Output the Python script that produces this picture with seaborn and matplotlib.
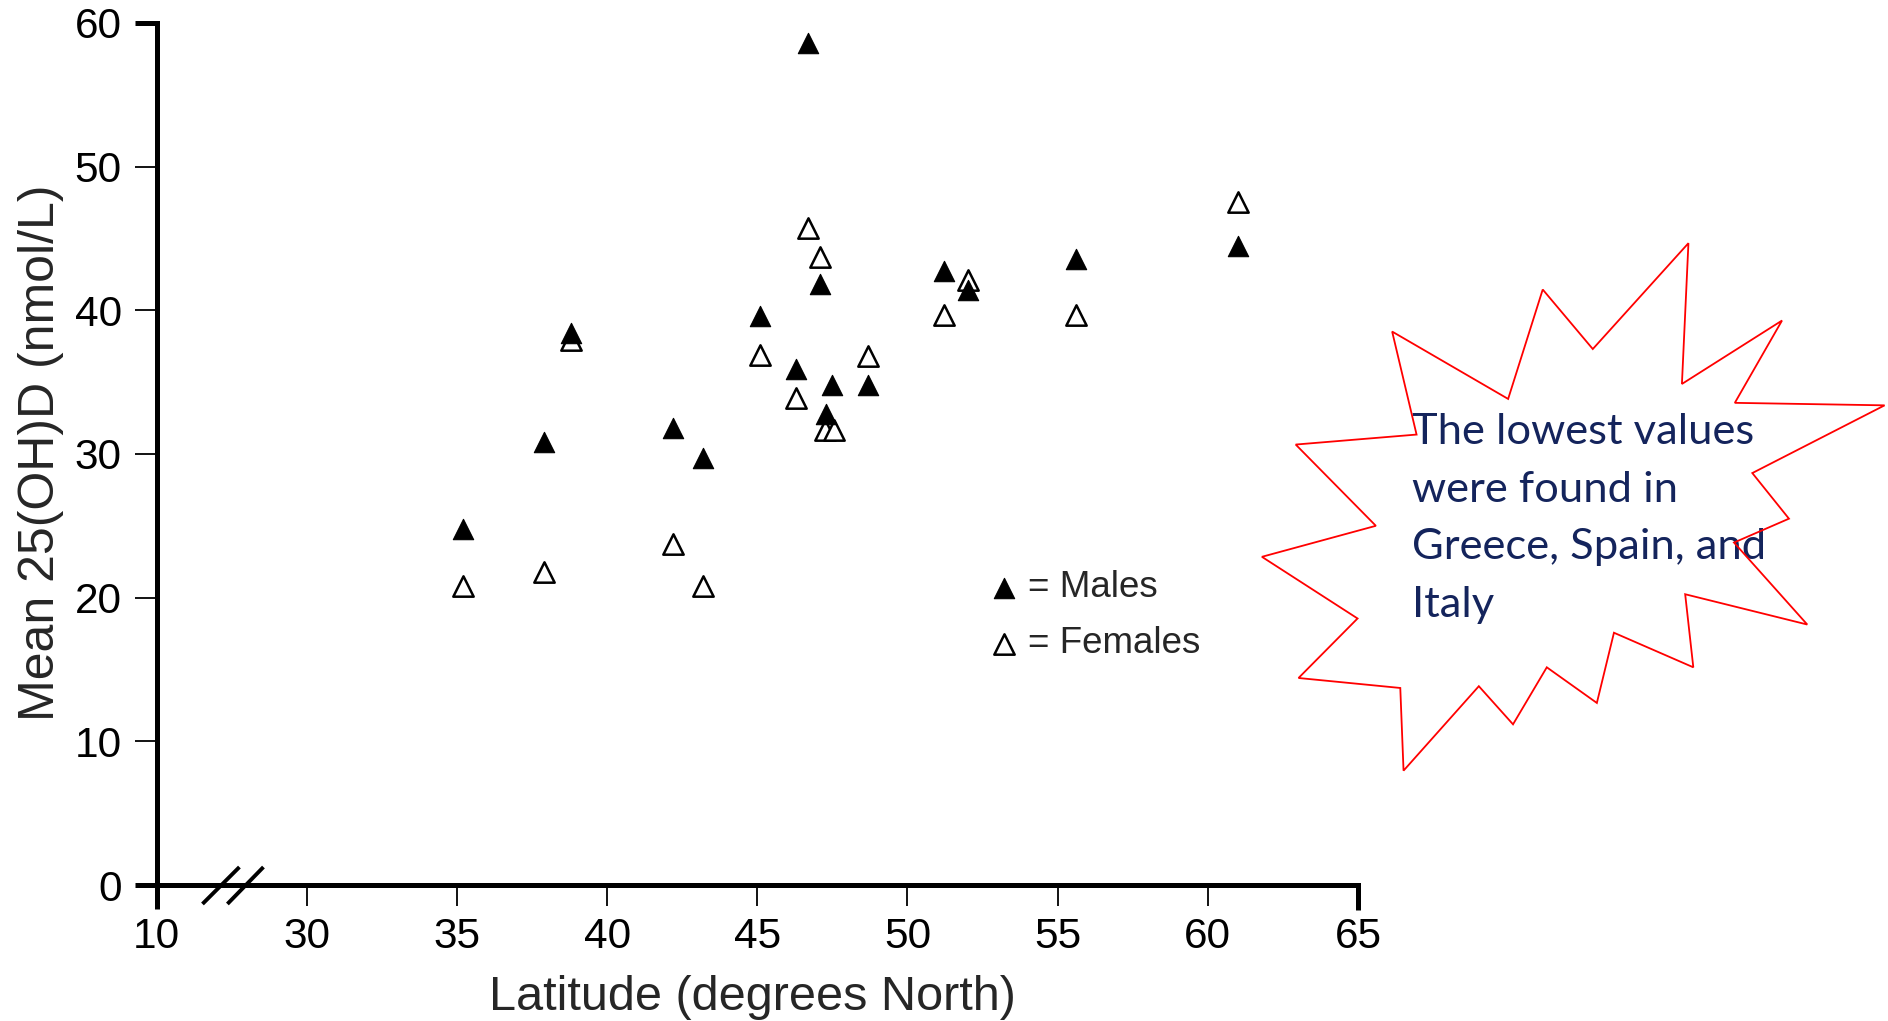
import numpy as np
import pandas as pd
import matplotlib
matplotlib.use("Agg")
import matplotlib.pyplot as plt
import seaborn as sns
from matplotlib.patches import Polygon

# ---------------- data ----------------
male_lat = [35.2, 37.9, 38.8, 42.2, 43.2, 45.1, 46.3, 46.7, 47.1, 47.3, 47.5, 48.7, 51.2, 52.0, 55.6, 61.0]
male_val = [24.8, 30.8, 38.4, 31.8, 29.7, 39.6, 35.9, 58.6, 41.8, 32.8, 34.8, 34.8, 42.7, 41.4, 43.6, 44.5]
female_lat = [35.2, 37.9, 38.8, 42.2, 43.2, 45.1, 46.3, 46.7, 47.1, 47.25, 47.55, 48.7, 51.2, 52.0, 55.6, 61.0]
female_val = [20.8, 21.8, 37.9, 23.7, 20.8, 36.9, 33.9, 45.7, 43.7, 31.7, 31.7, 36.8, 39.7, 42.1, 39.7, 47.5]

x_tick_values = [10, 30, 35, 40, 45, 50, 55, 60, 65]
x_tick_labels = ["10", "30", "35", "40", "45", "50", "55", "60", "65"]
y_tick_values = [0, 10, 20, 30, 40, 50, 60]
y_tick_labels = ["0", "10", "20", "30", "40", "50", "60"]

legend_labels = ["= Males", "= Females"]
note_lines = ["The lowest values", "were found in", "Greece, Spain, and", "Italy"]

# broken axis: everything below 30 is squeezed into one slot at 25
BREAK_POS = 25.0
def axis_pos(v):
    return v if v >= 30 else BREAK_POS

males = pd.DataFrame({"lat": male_lat, "val": male_val})
females = pd.DataFrame({"lat": female_lat, "val": female_val})

# ---------------- style ----------------
sns.set_style("white")
plt.rcParams["font.family"] = ["Liberation Sans", "DejaVu Sans"]

W, H = 1888, 1021
fig = plt.figure(figsize=(W / 100, H / 100), dpi=100)
fig.patch.set_facecolor("white")
ax = fig.add_axes([0.0829, 0.1332, 0.6364, 0.8444])

sns.scatterplot(data=females, x="lat", y="val", marker="^", s=215,
                facecolor="white", edgecolor="black", linewidth=1.8,
                ax=ax, legend=False, zorder=3, clip_on=False)
sns.scatterplot(data=males, x="lat", y="val", marker="^", s=215,
                color="black", edgecolor="black", linewidth=0.8,
                ax=ax, legend=False, zorder=4, clip_on=False)

ax.set_xlim(BREAK_POS, 65)
ax.set_ylim(0, 60)
ax.set_xticks([axis_pos(v) for v in x_tick_values])
ax.set_xticklabels(x_tick_labels)
ax.set_yticks(y_tick_values)
ax.set_yticklabels(y_tick_labels)

SPINE_LW = 3.6
for side in ["top", "right"]:
    ax.spines[side].set_visible(False)
for side in ["left", "bottom"]:
    ax.spines[side].set_linewidth(SPINE_LW)
    ax.spines[side].set_color("black")
    ax.spines[side].set_capstyle("projecting")
ax.tick_params(axis="both", which="major", bottom=True, left=True,
               top=False, right=False, direction="out", width=1.3,
               colors="black", labelsize=30.5)
ax.tick_params(axis="y", length=16, pad=9)
ax.tick_params(axis="x", length=15, pad=8)

# thick end ticks (axis ends)
xt = ax.xaxis.get_major_ticks()
yt = ax.yaxis.get_major_ticks()
for t in (xt[0], xt[-1], yt[0], yt[-1]):
    t.tick1line.set_markeredgewidth(SPINE_LW)
xt[0].tick1line.set_markersize(17)
xt[-1].tick1line.set_markersize(18)

ax.set_xlabel("Latitude (degrees North)", fontsize=35)
ax.set_ylabel("Mean 25(OH)D (nmol/L)", fontsize=36)
ax.xaxis.set_label_coords(0.496, -0.104)
ax.yaxis.set_label_coords(-0.077, 0.501)
ax.grid(False)

# axis break marks "//"
for x0, x1 in [(26.53, 27.76), (27.36, 28.56)]:
    ax.plot([x0, x1], [-1.32, 1.25], color="black", lw=2.8,
            clip_on=False, zorder=5, solid_capstyle="butt")

# in-plot legend
leg_x = 53.2
leg_y = [20.7, 16.8]
ax.scatter([leg_x], [leg_y[0]], marker="^", s=215, color="black",
           edgecolor="black", linewidth=0.8, zorder=4, clip_on=False)
ax.scatter([leg_x], [leg_y[1]], marker="^", s=215, facecolor="white",
           edgecolor="black", linewidth=1.8, zorder=4, clip_on=False)
for lbl, yy in zip(legend_labels, leg_y):
    ax.text(leg_x + 0.8, yy, lbl, fontsize=26.5, va="center", ha="left")

zoom_pts = [(1083, 35), (1067, 430), (1313, 252), (1197, 483), (1565, 490),
            (1240, 680), (1330, 808), (1195, 875), (1375, 1105), (1075, 1020),
            (1095, 1225), (900, 1128), (858, 1325), (735, 1225), (652, 1385),
            (568, 1278), (383, 1515), (375, 1283), (125, 1255), (270, 1088),
            (35, 915), (315, 828), (118, 600), (415, 572), (355, 283),
            (640, 472), (725, 165), (848, 332)]
k = W / 1568.0
star = []
for zx, zy in zoom_pts:
    sx = 1036.2 + 0.338 * zx
    sy = 191.6 + 0.296 * zy
    star.append((sx * k / W, 1 - sy * k / H))

fig.patches.append(Polygon(star, closed=True, facecolor="white",
                           edgecolor="none", transform=fig.transFigure,
                           zorder=1))
fig.patches.append(Polygon(star, closed=True, facecolor="none",
                           edgecolor="#ff0000", lw=1.3,
                           transform=fig.transFigure, zorder=10))

base0 = 444.3
step = 57.6
for i, line in enumerate(note_lines):
    fig.text(1412.4 / W, 1 - (base0 + i * step) / H, line,
             fontsize=31.3, color="#14245c", ha="left", va="baseline",
             family=["Lato", "DejaVu Sans"], zorder=5)

fig.savefig("out.png", dpi=100, facecolor="white")
